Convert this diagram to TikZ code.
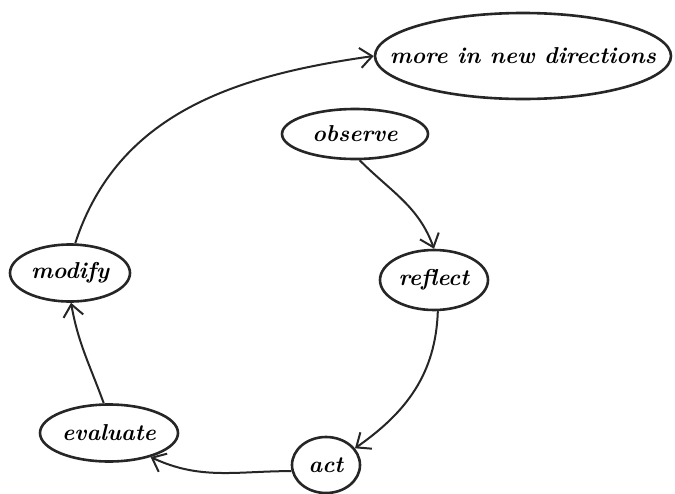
\documentclass[tikz,border=0pt]{standalone}
\usetikzlibrary{shapes.geometric,arrows.meta}
\newcommand{\ovaltext}[1]{\makebox[0pt]{#1}}
\begin{document}
\begin{tikzpicture}[x=1pt,y=-1pt,
  oval/.style={draw=black!85,line width=2.6pt,ellipse,inner sep=0pt,
    font=\fontsize{23}{25}\selectfont\bfseries\itshape},
  arr/.style={draw=black!85,line width=2pt,-{Straight Barb[length=12pt,width=20pt,line width=2pt]}}]
\useasboundingbox (0,0) rectangle (675,493);
\node[oval,minimum width=296pt,minimum height=86pt] (more) at (523,56) {\ovaltext{more in new directions}};
\node[oval,minimum width=146pt,minimum height=50pt] (observe) at (355,134) {\ovaltext{observe}};
\node[oval,minimum width=108pt,minimum height=60pt] (reflect) at (434,280) {\ovaltext{reflect}};
\node[oval,minimum width=120pt,minimum height=57pt] (modify) at (70,273) {\ovaltext{modify}};
\node[oval,minimum width=138pt,minimum height=57pt] (evaluate) at (109,433) {\ovaltext{evaluate}};
\node[oval,minimum width=68pt,minimum height=56pt] (act) at (326,465) {\ovaltext{act}};
\draw[arr] (modify.80) to[out=72,in=188] (more.west);
\draw[arr] (observe.-80) to[out=-45,in=110] (reflect.north);
\draw[arr] (reflect.-83) to[out=-92,in=35] (act.30);
\draw[arr] (act.190) to[out=180,in=-25] (evaluate.-30);
\draw[arr] (evaluate.100) to[out=110,in=-80] (modify.-88);
\end{tikzpicture}
\end{document}
